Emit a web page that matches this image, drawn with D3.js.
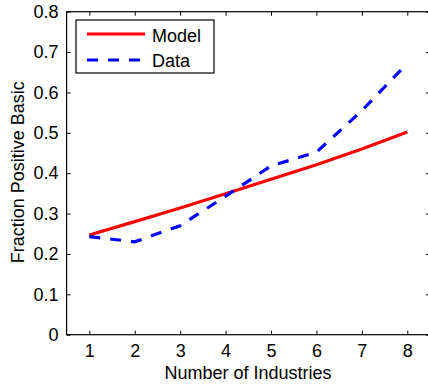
<!DOCTYPE html>
<html>
<head>
<meta charset="utf-8">
<script src="https://cdn.jsdelivr.net/npm/d3@7"></script>
<style>
  body { margin: 0; background: #fff; }
  svg { display: block; font-family: "Liberation Sans", Arial, sans-serif; }
</style>
</head>
<body>
<svg id="chart" width="428" height="385"></svg>
<script>
// ---------- data ---------- //
var industries = [1, 2, 3, 4, 5, 6, 7, 8];
var modelValues = [0.247, 0.280, 0.314, 0.349, 0.385, 0.421, 0.460, 0.502];
var dataValues = [0.243, 0.230, 0.270, 0.343, 0.418, 0.452, 0.555, 0.672];
var yTicks = [0, 0.1, 0.2, 0.3, 0.4, 0.5, 0.6, 0.7, 0.8];
var seriesNames = ["Model", "Data"];

var svg = d3.select("#chart");

// plot box (window.top is reserved, so use other names)
var plotLeft = 66.6, plotRight = 430, plotTop = 11.7, plotBottom = 334.7;

var x = d3.scaleLinear().domain([0.5, 8.5]).range([plotLeft, plotRight]);
var y = d3.scaleLinear().domain([0, 0.8]).range([plotBottom, plotTop]);

// bottom axis, ticks pointing inward
svg.append("g")
    .attr("transform", "translate(0," + plotBottom + ")")
    .call(d3.axisBottom(x).tickValues(industries).tickSizeInner(-4).tickSizeOuter(0).tickPadding(10).tickFormat(d3.format("d")))
    .call(function(g){ g.select(".domain").remove(); });

// top axis ticks, no labels
svg.append("g")
    .attr("transform", "translate(0," + plotTop + ")")
    .call(d3.axisTop(x).tickValues(industries).tickSizeInner(-4).tickSizeOuter(0).tickFormat(""))
    .call(function(g){ g.select(".domain").remove(); });

// left axis
svg.append("g")
    .attr("transform", "translate(" + plotLeft + ",0)")
    .call(d3.axisLeft(y).tickValues(yTicks).tickSizeInner(-4).tickSizeOuter(0).tickPadding(8)
        .tickFormat(function(d){ return d === 0 ? "0" : d3.format(".1f")(d); }))
    .call(function(g){ g.select(".domain").remove(); });

// right axis ticks
svg.append("g")
    .attr("transform", "translate(" + plotRight + ",0)")
    .call(d3.axisRight(y).tickValues(yTicks).tickSizeInner(-4).tickSizeOuter(0).tickFormat(""))
    .call(function(g){ g.select(".domain").remove(); });

svg.selectAll(".tick text")
    .attr("font-size", "18")
    .attr("font-family", "Liberation Sans, Arial, sans-serif")
    .attr("fill", "#000");

svg.selectAll(".tick line").attr("stroke", "#000");

// box
svg.append("rect")
    .attr("x", plotLeft)
    .attr("y", plotTop)
    .attr("width", plotRight - plotLeft)
    .attr("height", plotBottom - plotTop)
    .attr("fill", "none")
    .attr("stroke", "#000")
    .attr("stroke-width", 1.2);

var line = d3.line()
    .x(function(d, i){ return x(industries[i]); })
    .y(function(d){ return y(d); });

svg.append("path")
    .datum(modelValues)
    .attr("d", line)
    .attr("fill", "none")
    .attr("stroke", "#ff0000")
    .attr("stroke-width", 3.2);

svg.append("path")
    .datum(dataValues)
    .attr("d", line)
    .attr("fill", "none")
    .attr("stroke", "#0000ff")
    .attr("stroke-width", 3.2)
    .attr("stroke-dasharray", "11,10");

// axis titles
svg.append("text")
    .attr("x", 248)
    .attr("y", 379)
    .attr("font-size", "18")
    .attr("text-anchor", "middle")
    .text("Number of Industries");

svg.append("text")
    .attr("transform", "translate(24," + ((plotTop + plotBottom) / 2 - 1) + ") rotate(-90)")
    .attr("font-size", "18")
    .attr("text-anchor", "middle")
    .text("Fraction Positive Basic");

// legend
var legend = svg.append("g");

legend.append("rect")
    .attr("x", 76)
    .attr("y", 20)
    .attr("width", 138)
    .attr("height", 53)
    .attr("fill", "#fff")
    .attr("stroke", "#000")
    .attr("stroke-width", 1.2);

legend.append("line")
    .attr("x1", 87).attr("x2", 145)
    .attr("y1", 34).attr("y2", 34)
    .attr("stroke", "#ff0000")
    .attr("stroke-width", 3.2);

legend.append("line")
    .attr("x1", 87).attr("x2", 145)
    .attr("y1", 60).attr("y2", 60)
    .attr("stroke", "#0000ff")
    .attr("stroke-width", 3.2)
    .attr("stroke-dasharray", "11,10");

legend.append("text")
    .attr("x", 152).attr("y", 42)
    .attr("font-size", "18")
    .text(seriesNames[0]);

legend.append("text")
    .attr("x", 152).attr("y", 66.5)
    .attr("font-size", "18")
    .text(seriesNames[1]);
</script>
</body>
</html>
